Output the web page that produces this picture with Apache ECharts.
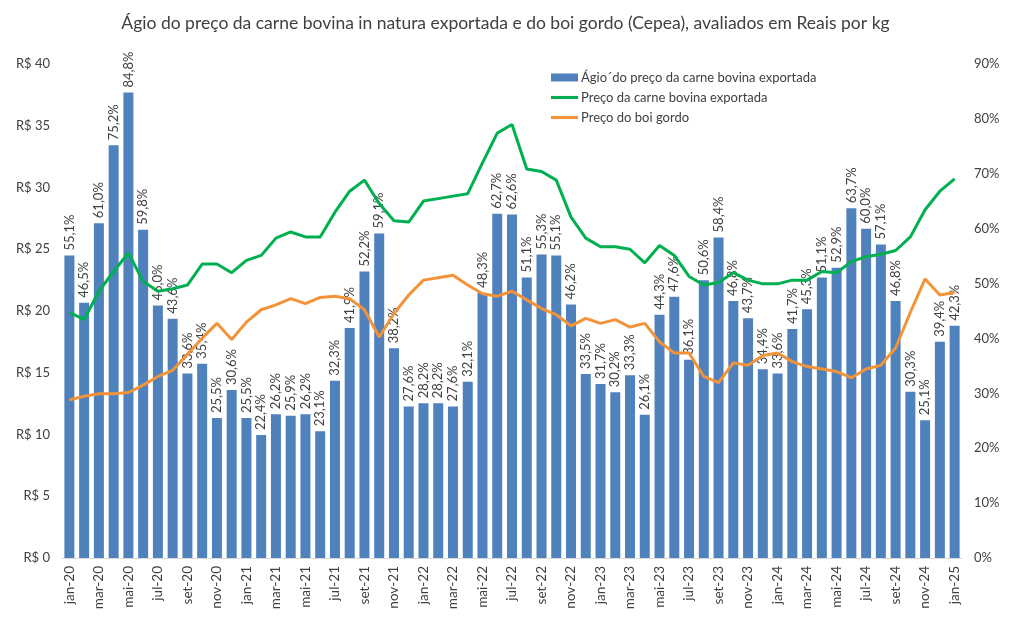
<!DOCTYPE html>
<html>
<head>
<meta charset="utf-8">
<script src="https://cdn.jsdelivr.net/npm/echarts@6/dist/echarts.min.js"></script>
<style>
html,body{margin:0;padding:0;background:#fff;}
#chart{width:1011px;height:629px;}
</style>
</head>
<body>
<div id="chart"></div>
<script>
const categories = [
 'jan-20','fev-20','mar-20','abr-20','mai-20','jun-20','jul-20','ago-20','set-20','out-20','nov-20','dez-20',
 'jan-21','fev-21','mar-21','abr-21','mai-21','jun-21','jul-21','ago-21','set-21','out-21','nov-21','dez-21',
 'jan-22','fev-22','mar-22','abr-22','mai-22','jun-22','jul-22','ago-22','set-22','out-22','nov-22','dez-22',
 'jan-23','fev-23','mar-23','abr-23','mai-23','jun-23','jul-23','ago-23','set-23','out-23','nov-23','dez-23',
 'jan-24','fev-24','mar-24','abr-24','mai-24','jun-24','jul-24','ago-24','set-24','out-24','nov-24','dez-24',
 'jan-25'
];
// Ágio (%)
const agio = [
 55.1,46.5,61.0,75.2,84.8,59.8,46.0,43.6,33.6,35.4,25.5,30.6,
 25.5,22.4,26.2,25.9,26.2,23.1,32.3,41.9,52.2,59.1,38.2,27.6,
 28.2,28.2,27.6,32.1,48.3,62.7,62.6,51.1,55.3,55.1,46.2,33.5,
 31.7,30.2,33.3,26.1,44.3,47.6,36.1,50.6,58.4,46.8,43.7,34.4,
 33.6,41.7,45.3,51.1,52.9,63.7,60.0,57.1,46.8,30.3,25.1,39.4,
 42.3
];
// Preço da carne bovina exportada (R$/kg)
const carne = [
 19.9,19.3,21.6,23.2,24.7,22.4,21.6,21.8,22.1,23.8,23.8,23.1,
 24.1,24.5,25.9,26.4,26.0,26.0,28.0,29.7,30.6,28.7,27.3,27.2,
 28.9,29.1,29.3,29.5,32.0,34.4,35.1,31.5,31.3,30.6,27.6,25.9,
 25.2,25.2,25.0,23.9,25.3,24.5,22.8,22.1,22.3,23.1,22.5,22.2,
 22.2,22.5,22.5,23.2,23.1,24.0,24.4,24.6,24.9,26.0,28.2,29.7,
 30.7
];
// Preço do boi gordo (R$/kg)
const boi = [
 12.8,13.1,13.3,13.3,13.4,14.0,14.7,15.2,16.5,17.8,19.0,17.7,
 19.1,20.1,20.5,21.0,20.6,21.1,21.2,21.0,20.1,17.9,19.8,21.3,
 22.5,22.7,22.9,22.1,21.4,21.2,21.6,20.9,20.2,19.7,18.8,19.4,
 19.0,19.3,18.7,19.0,17.5,16.6,16.6,14.7,14.2,15.8,15.6,16.4,
 16.6,15.9,15.5,15.3,15.1,14.6,15.3,15.6,17.0,19.9,22.6,21.3,
 21.5
];
const leftTicks = {min:0, max:40, interval:5};
const rightTicks = {min:0, max:90, interval:10};

const txt = '#404040';
const font = 'Lato, "Open Sans", sans-serif';
const lineIcon = 'path://M0,0 L26,0 L26,3 L0,3 Z';
const chart = echarts.init(document.getElementById('chart'));
chart.setOption({
  animation:false,
  textStyle:{fontFamily:font},
  title:{
    text:'Ágio do preço da carne bovina in natura exportada e do boi gordo (Cepea), avaliados em Reais por kg',
    left:'center', top:9,
    textStyle:{fontSize:17.5, fontWeight:'normal', color:txt, fontFamily:font}
  },
  legend:{
    orient:'vertical', left:546, top:66, itemGap:7, itemWidth:27, itemHeight:8,
    symbolKeepAspect:true,
    textStyle:{fontSize:13, color:txt, fontFamily:font, padding:[0,0,0,-2]},
    data:[
      {name:'Ágio´do preço da carne bovina exportada', icon:'rect'},
      {name:'Preço da carne bovina exportada', icon:lineIcon},
      {name:'Preço do boi gordo', icon:lineIcon}
    ]
  },
  grid:{left:62, right:49, top:64, bottom:71},
  xAxis:{
    type:'category', data:categories,
    axisLine:{lineStyle:{color:'#d9d9d9'}},
    axisTick:{show:false},
    axisLabel:{interval:1, rotate:90, fontSize:13.5, color:txt, margin:8, fontFamily:font}
  },
  yAxis:[
    {type:'value', min:leftTicks.min, max:leftTicks.max, interval:leftTicks.interval,
     splitLine:{show:false}, axisLine:{show:false}, axisTick:{show:false},
     axisLabel:{formatter:v=>'R$ '+v, fontSize:13, color:txt, margin:12, fontFamily:font}},
    {type:'value', min:rightTicks.min, max:rightTicks.max, interval:rightTicks.interval,
     splitLine:{show:false}, axisLine:{show:false}, axisTick:{show:false},
     axisLabel:{formatter:v=>v+'%', fontSize:13, color:txt, margin:12, fontFamily:font}}
  ],
  series:[
    {name:'Ágio´do preço da carne bovina exportada', type:'bar', yAxisIndex:1, data:agio,
     barWidth:10, itemStyle:{color:'#4F81BD'},
     label:{show:true, position:'top', rotate:90, align:'left', verticalAlign:'middle', distance:5,
       fontSize:13, color:txt, fontFamily:font,
       formatter:p=>p.value.toFixed(1).replace('.',',')+'%'}},
    {name:'Preço da carne bovina exportada', type:'line', yAxisIndex:0, data:carne,
     symbol:'none', lineStyle:{width:3, color:'#00B050'}, itemStyle:{color:'#00B050'}},
    {name:'Preço do boi gordo', type:'line', yAxisIndex:0, data:boi,
     symbol:'none', lineStyle:{width:3, color:'#F39339'}, itemStyle:{color:'#F39339'}}
  ]
});
</script>
</body>
</html>
